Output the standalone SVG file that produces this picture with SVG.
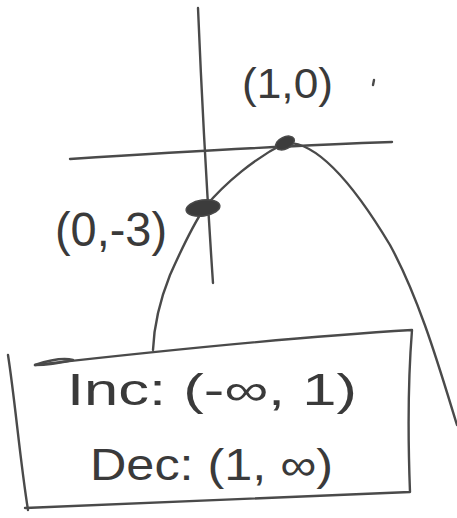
<svg xmlns="http://www.w3.org/2000/svg" width="457" height="518" viewBox="0 0 457 518">
<style>
.ln{fill:none;stroke:#4a4a4a;stroke-width:2.4;stroke-linecap:round;stroke-linejoin:round}
.dot{fill:#3c3c3c;stroke:#4a4a4a;stroke-width:1.5}
.t{font-family:"Liberation Sans","DejaVu Sans",sans-serif;fill:#3a3a3a;font-weight:normal}
</style>
<rect width="457" height="518" fill="#ffffff"/>
<g id="axes">
<path class="ln" d="M198,8 C201,80 206,180 213,283"/>
<path class="ln" d="M70,159 C180,152 300,145 392,142"/>
</g>
<g id="connectors">
<path class="ln" d="M153,350 C154,325 160,300 170,275 C182,248 195,222 205,207 C225,183 255,158 285,143 C320,140 360,195 390,245 C420,300 440,370 457,425"/>
</g>
<g id="point-1-0">
<ellipse class="dot" cx="285" cy="143" rx="10" ry="6" transform="rotate(-25 285 143)"/>
<text class="t" x="242" y="98" font-size="42" textLength="91" lengthAdjust="spacingAndGlyphs">(1,0)</text>
</g>
<g id="point-0-m3">
<ellipse class="dot" cx="203" cy="208" rx="17" ry="8" transform="rotate(-8 203 208)"/>
<text class="t" x="55" y="246" font-size="48" textLength="112" lengthAdjust="spacingAndGlyphs">(0,-3)</text>
</g>
<g id="stray">
<path class="ln" d="M374,80 L373,85" stroke-width="1.5"/>
</g>
<g id="box">
<path class="ln" d="M35,365 C150,352 280,338 412,330 C408,380 408,440 410,492 C280,498 150,503 25,508"/>
<path class="ln" d="M35,365 C50,360 65,358 73,360 C60,363 45,365 35,365"/>
<path class="ln" d="M8,355 C15,400 20,460 28,510"/>
<text class="t" x="67" y="405" font-size="44" textLength="290" lengthAdjust="spacingAndGlyphs">Inc: (-∞, 1)</text>
<text class="t" x="90" y="480" font-size="44" textLength="243" lengthAdjust="spacingAndGlyphs">Dec: (1, ∞)</text>
</g>
</svg>
